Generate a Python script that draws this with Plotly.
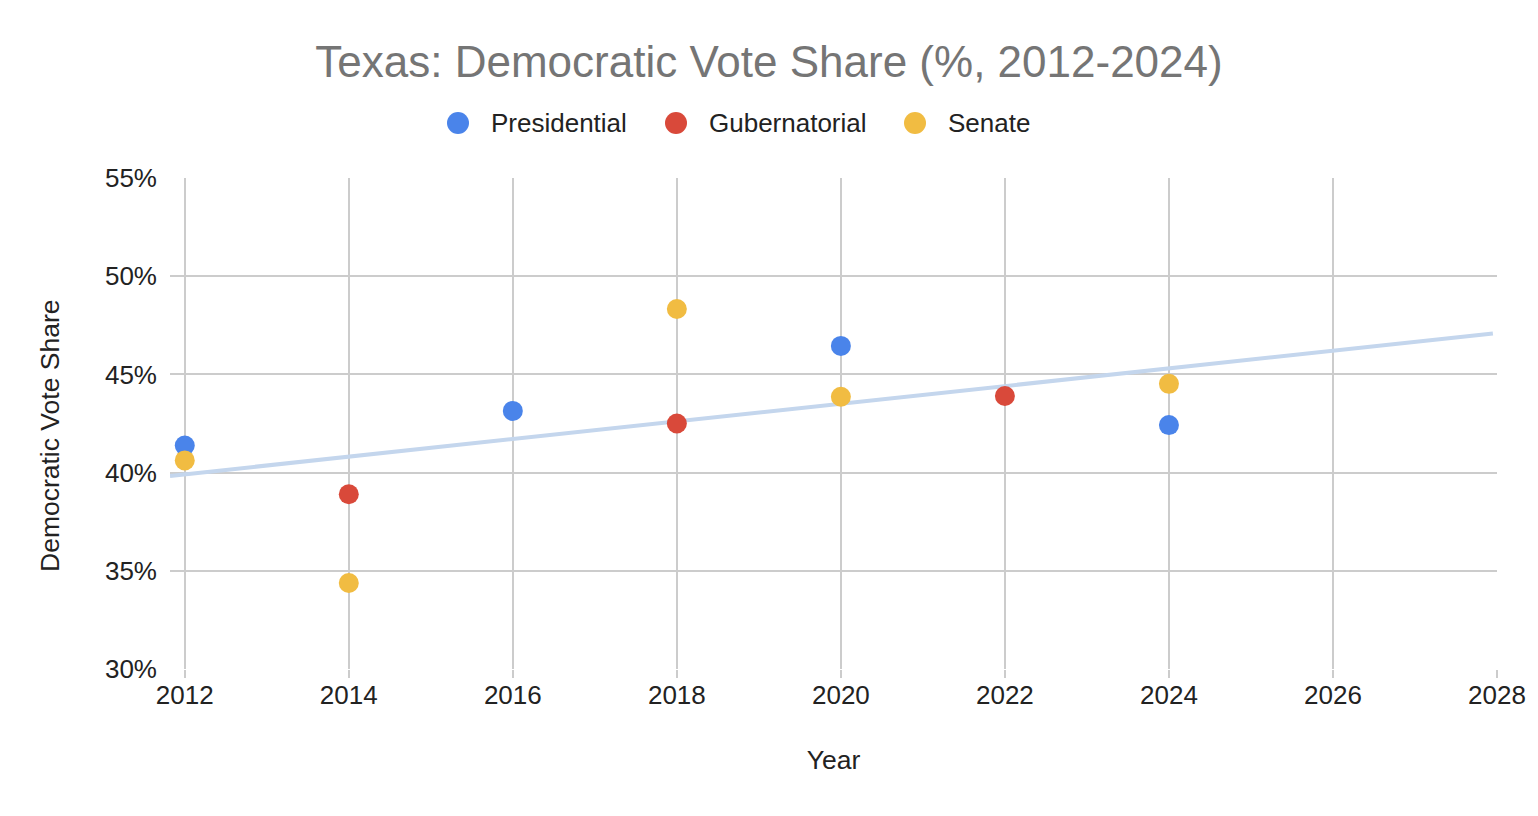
import numpy as np
import plotly.graph_objects as go

# Data
pres_years = [2012, 2016, 2020, 2024]
pres_share = [41.38, 43.14, 46.45, 42.42]
gov_years = [2014, 2018, 2022]
gov_share = [38.9, 42.5, 43.9]
sen_years = [2012, 2014, 2018, 2020, 2024]
sen_share = [40.62, 34.38, 48.33, 43.86, 44.52]

x_ticks = [2012, 2014, 2016, 2018, 2020, 2022, 2024, 2026, 2028]
y_ticks = [30, 35, 40, 45, 50, 55]

series_names = ["Presidential", "Gubernatorial", "Senate"]
colors = {"Presidential": "#4a84ea", "Gubernatorial": "#d9493a", "Senate": "#f1bc42"}

# Linear trendline over all points
all_x = np.array(pres_years + gov_years + sen_years, dtype=float)
all_y = np.array(pres_share + gov_share + sen_share, dtype=float)
slope, intercept = np.polyfit(all_x, all_y, 1)
x_min, x_max = 2011.82, 2028.0
tx = np.array([x_min, 2027.95])
ty = slope * tx + intercept

font = "Liberation Sans, Arial, sans-serif"

W, H = 1522, 800          # page has 8px body margin
L, R, T, B = 162, 33, 170, 139
PW, PH = W - L - R, H - T - B


def px_to_paper(px, py):
    # page pixel coordinates -> paper coordinates
    return (px - 8 - L) / PW, (H - B - (py - 8)) / PH


fig = go.Figure()
fig.add_trace(go.Scatter(x=tx, y=ty, mode="lines", showlegend=False, hoverinfo="skip",
                         line=dict(color="#c4d6ed", width=4)))
for name, xs, ys in [("Presidential", pres_years, pres_share),
                     ("Gubernatorial", gov_years, gov_share),
                     ("Senate", sen_years, sen_share)]:
    fig.add_trace(go.Scatter(x=xs, y=ys, mode="markers", name=name, showlegend=False,
                             marker=dict(color=colors[name], size=20, line=dict(width=0))))

# Legend drawn manually (large circles like the reference)
legend_marker_px = [458, 676, 915]
shapes, annotations = [], []
for name, mx in zip(series_names, legend_marker_px):
    cx, cy = px_to_paper(mx, 123)
    shapes.append(dict(type="circle", xref="paper", yref="paper", xsizemode="pixel", ysizemode="pixel",
                       xanchor=cx, yanchor=cy, x0=-11, x1=11, y0=-11, y1=11,
                       fillcolor=colors[name], line=dict(width=0)))
    tx0, _ = px_to_paper(mx + 31, 123)
    annotations.append(dict(text=name, xref="paper", yref="paper", x=tx0, y=cy, xanchor="left",
                            yanchor="middle", showarrow=False,
                            font=dict(family=font, size=26, color="#222222")))

# Y axis title as annotation (positioned like reference)
ax, ay = px_to_paper(50, 436)
annotations.append(dict(text="Democratic Vote Share", xref="paper", yref="paper", x=ax, y=ay,
                        xanchor="center", yanchor="middle", textangle=-90, showarrow=False,
                        font=dict(family=font, size=26.5, color="#222222")))

fig.update_layout(
    width=W, height=H,
    paper_bgcolor="white", plot_bgcolor="white",
    margin=dict(l=L, r=R, t=T, b=B),
    font=dict(family=font, color="#222222", size=26),
    title=dict(text="Texas: Democratic Vote Share (%, 2012-2024)", x=0.5, xref="container",
               xanchor="center", y=1 - 54 / H, yanchor="middle",
               font=dict(family=font, size=44, color="#757575")),
    showlegend=False,
    shapes=shapes,
    annotations=annotations,
)
fig.update_xaxes(range=[x_min, x_max], tickvals=x_ticks, ticktext=[str(v) for v in x_ticks],
                 automargin=False,
                 showgrid=True, gridcolor="#cccccc", gridwidth=2, zeroline=False, showline=False,
                 ticks="outside", ticklen=8, tickcolor="#cccccc", tickwidth=2, ticklabelstandoff=-5,
                 tickfont=dict(family=font, size=26, color="#222222"),
                 title=dict(text="Year", font=dict(family=font, size=26.5, color="#222222"), standoff=41))
fig.update_yaxes(range=[30, 55], tickvals=y_ticks, ticktext=[f"{v}%" for v in y_ticks],
                 automargin=False,
                 showgrid=True, gridcolor="#cccccc", gridwidth=2, zeroline=False, showline=False,
                 ticks="", ticklabelstandoff=12,
                 tickfont=dict(family=font, size=26, color="#222222"))

fig.write_html("out.html")
